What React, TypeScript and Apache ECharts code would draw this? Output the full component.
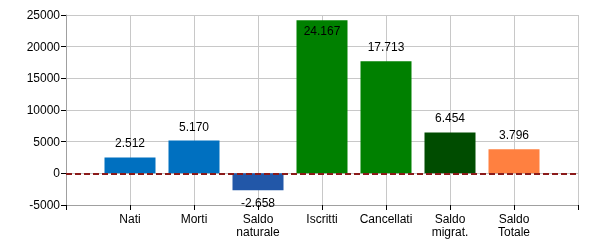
import React, { useEffect, useRef } from "react";
import * as echarts from "echarts";

const categories = ["", "Nati", "Morti", "Saldo\nnaturale", "Iscritti", "Cancellati", "Saldo\nmigrat.", "Saldo\nTotale", ""];
const values: (number | null)[] = [null, 2512, 5170, -2658, 24167, 17713, 6454, 3796, null];
const barColors = ["", "#0070C0", "#0070C0", "#2257A8", "#008000", "#008000", "#004C00", "#FF8040", ""];
const yTicks = { min: -5000, max: 25000, interval: 5000 };

const fmt = (v: number) => {
  const s = Math.abs(v).toString().replace(/\B(?=(\d{3})+(?!\d))/g, ".");
  return (v < 0 ? "-" : "") + s;
};

export default function App() {
  const ref = useRef<HTMLDivElement>(null);
  useEffect(() => {
    const chart = echarts.init(ref.current!, null, { renderer: "svg" });
    const font = "'Liberation Sans', Arial, sans-serif";
    chart.setOption({
      animation: false,
      textStyle: { fontFamily: font },
      grid: { left: 66, right: 22, top: 15, bottom: 45 },
      xAxis: {
        type: "category",
        data: categories,
        boundaryGap: false,
        axisLine: { onZero: false, lineStyle: { color: "#a0a0a0", width: 1 } },
        axisTick: { show: true, length: 5, lineStyle: { color: "#000" } },
        axisLabel: { color: "#000", fontSize: 12, fontFamily: font, margin: 7, lineHeight: 13, interval: 0 },
        splitLine: { show: true, lineStyle: { color: "#c8c8c8", width: 1 } },
      },
      yAxis: {
        type: "value",
        min: yTicks.min,
        max: yTicks.max,
        interval: yTicks.interval,
        axisLine: { show: true, lineStyle: { color: "#a0a0a0", width: 1 } },
        axisTick: { show: true, length: 5, lineStyle: { color: "#000" } },
        axisLabel: { color: "#000", fontSize: 12, fontFamily: font, margin: 6, formatter: (v: number) => String(v) },
        splitLine: { show: true, lineStyle: { color: "#c8c8c8", width: 1 } },
      },
      series: [
        {
          type: "bar",
          barWidth: 51,
          data: values.map((v, i) => {
            if (v === null) return null;
            const item: any = {
              value: v,
              itemStyle: { color: barColors[i] },
              label: {
                show: true,
                position: v < 0 ? "bottom" : "top",
                distance: v < 0 ? 7 : 8,
              },
            };
            if (v > 22000) item.label = { show: true, position: "insideTop", distance: 5 };
            return item;
          }),
          label: {
            show: true,
            color: "#000",
            fontSize: 12,
            fontFamily: font,
            formatter: (p: any) => fmt(p.value),
          },
          markLine: {
            silent: true,
            symbol: "none",
            label: { show: false },
            lineStyle: { color: "#8B1A1A", type: [6, 3], width: 2 },
            data: [{ yAxis: 0 }],
          },
        },
      ],
    });
    return () => chart.dispose();
  }, []);
  return <div ref={ref} style={{ position: "fixed", left: 0, top: 0, width: 600, height: 250 }} />;
}
